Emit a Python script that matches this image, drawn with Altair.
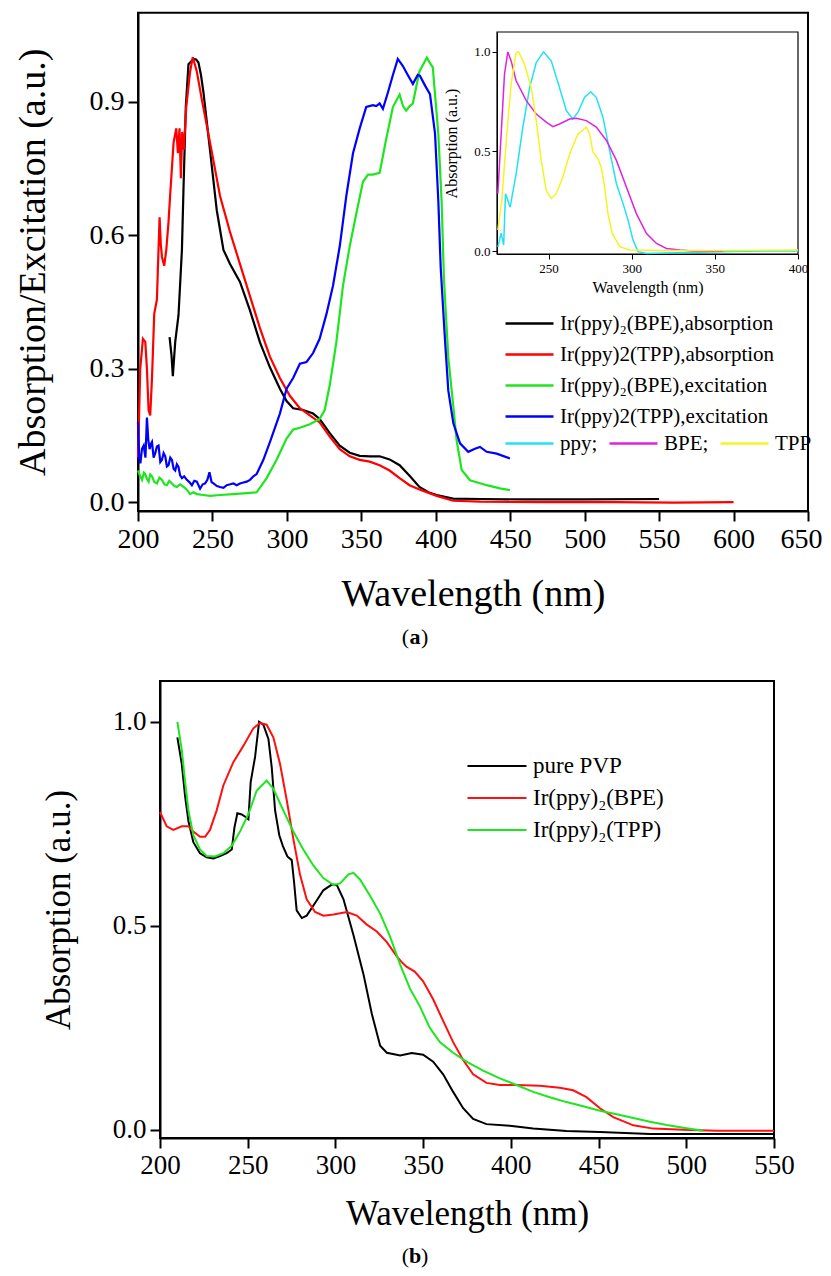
import altair as alt
import pandas as pd

FONT = "Liberation Serif"

# ---------------- Panel (a): main spectra (wavelength nm, normalised value) ----------------
A_BPE_ABS = [(221.2, 0.371), (222.5, 0.33), (223.4, 0.283), (225.0, 0.36), (227.2, 0.42), (229.5, 0.567),
             (230.6, 0.71), (232.1, 0.888), (233.9, 0.984), (235.5, 0.99), (237.3, 0.996), (239.0, 0.995),
             (240.6, 0.988), (242.3, 0.96), (244.0, 0.92), (248.4, 0.79), (252.9, 0.656), (257.4, 0.567),
             (261.8, 0.535), (268.5, 0.495), (275.2, 0.431), (281.9, 0.359), (288.6, 0.303), (295.3, 0.255),
             (299.8, 0.227), (304.2, 0.211), (310.9, 0.207), (317.6, 0.199), (322.0, 0.187), (328.8, 0.155),
             (335.5, 0.127), (342.2, 0.111), (348.9, 0.104), (355.6, 0.103), (362.3, 0.103), (369.0, 0.096),
             (375.7, 0.083), (382.4, 0.059), (389.0, 0.034), (395.0, 0.022), (400.6, 0.016), (411.6, 0.008),
             (430.0, 0.007), (460.0, 0.006), (500.0, 0.006), (550.0, 0.007)]

A_TPP_ABS = [(200.0, 0.10), (201.5, 0.3), (203.3, 0.367), (204.9, 0.36), (206.0, 0.3), (207.1, 0.207),
             (208.2, 0.195), (209.4, 0.279), (210.9, 0.423), (212.7, 0.455), (213.6, 0.55), (214.5, 0.64),
             (215.3, 0.58), (216.1, 0.551), (217.6, 0.531), (219.0, 0.567), (220.5, 0.63), (221.7, 0.696),
             (223.9, 0.808), (225.7, 0.84), (226.8, 0.784), (227.9, 0.84), (228.8, 0.728), (229.7, 0.832),
             (230.8, 0.792), (232.4, 0.888), (235.0, 0.968), (236.8, 1.0), (239.5, 0.968), (242.9, 0.904),
             (248.4, 0.808), (255.1, 0.688), (261.8, 0.607), (268.5, 0.535), (275.2, 0.463), (281.9, 0.391),
             (288.6, 0.327), (295.3, 0.279), (302.0, 0.239), (308.7, 0.211), (315.4, 0.195), (322.0, 0.179),
             (328.8, 0.147), (335.5, 0.119), (342.2, 0.103), (348.9, 0.095), (355.6, 0.091), (362.3, 0.083),
             (369.0, 0.071), (375.7, 0.054), (382.4, 0.038), (389.4, 0.028), (400.6, 0.014), (411.6, 0.003),
             (430.0, 0.001), (470.0, 0.0), (520.0, 0.0), (560.0, -0.001), (600.0, 0.0)]

A_BPE_EXC = [(200.0, 0.071), (201.5, 0.058), (202.7, 0.05), (204.0, 0.066), (204.9, 0.063), (206.0, 0.052),
             (207.1, 0.046), (208.2, 0.062), (209.4, 0.058), (211.0, 0.045), (212.7, 0.042), (214.4, 0.055),
             (216.1, 0.05), (217.8, 0.04), (219.4, 0.038), (221.0, 0.048), (222.8, 0.042), (224.5, 0.036),
             (226.1, 0.034), (228.3, 0.04), (230.6, 0.034), (232.8, 0.028), (235.0, 0.018), (237.2, 0.022),
             (239.5, 0.018), (244.0, 0.016), (248.4, 0.014), (255.1, 0.016), (264.1, 0.018), (273.0, 0.02),
             (279.7, 0.022), (286.4, 0.054), (293.1, 0.095), (299.8, 0.143), (304.2, 0.163), (308.7, 0.167),
             (315.4, 0.175), (322.0, 0.187), (325.4, 0.207), (328.8, 0.263), (333.2, 0.359), (337.7, 0.487),
             (342.2, 0.575), (346.6, 0.648), (351.1, 0.72), (354.5, 0.736), (357.8, 0.736), (362.3, 0.74),
             (366.7, 0.816), (371.2, 0.888), (375.7, 0.916), (378.0, 0.89), (380.1, 0.88), (382.5, 0.89),
             (384.6, 0.896), (389.0, 0.968), (391.6, 0.984), (394.0, 0.999), (395.5, 0.99), (398.0, 0.977),
             (401.7, 0.828), (403.9, 0.678), (405.5, 0.50), (408.4, 0.326), (411.8, 0.214), (414.0, 0.139),
             (417.4, 0.072), (423.0, 0.049), (434.2, 0.038), (443.1, 0.031), (449.8, 0.027)]

A_TPP_EXC = [(200.0, 0.18), (200.8, 0.1), (201.6, 0.087), (202.7, 0.12), (203.8, 0.127), (205.0, 0.1),
             (206.0, 0.19), (206.9, 0.14), (207.8, 0.119), (208.6, 0.13), (209.4, 0.135), (210.5, 0.1),
             (211.6, 0.11), (212.7, 0.125), (213.8, 0.127), (215.0, 0.09), (216.1, 0.095), (217.2, 0.11),
             (218.3, 0.103), (219.4, 0.08), (220.5, 0.083), (221.7, 0.1), (222.8, 0.095), (223.9, 0.075),
             (225.0, 0.071), (226.1, 0.085), (227.2, 0.079), (228.3, 0.06), (229.5, 0.054), (231.0, 0.058),
             (232.8, 0.05), (234.5, 0.045), (236.2, 0.038), (237.8, 0.048), (239.5, 0.046), (241.7, 0.03),
             (243.5, 0.04), (245.1, 0.042), (246.6, 0.05), (248.0, 0.067), (249.4, 0.045), (250.7, 0.042),
             (253.0, 0.036), (255.1, 0.034), (257.4, 0.032), (259.6, 0.038), (262.0, 0.04), (264.1, 0.042),
             (266.3, 0.038), (268.5, 0.042), (270.8, 0.044), (273.0, 0.046), (275.2, 0.05), (277.5, 0.058),
             (279.7, 0.063), (284.2, 0.095), (288.6, 0.135), (295.3, 0.199), (299.8, 0.255), (304.2, 0.279),
             (308.7, 0.311), (313.2, 0.315), (317.6, 0.335), (322.0, 0.367), (326.6, 0.423), (331.0, 0.487),
             (335.5, 0.575), (339.9, 0.688), (344.4, 0.784), (348.9, 0.84), (353.3, 0.888), (357.8, 0.892),
             (360.0, 0.89), (362.3, 0.896), (364.5, 0.884), (367.8, 0.92), (371.2, 0.96), (374.5, 0.996),
             (377.9, 0.98), (381.2, 0.96), (384.6, 0.94), (387.9, 0.96), (389.4, 0.958), (393.0, 0.935),
             (396.1, 0.917), (399.5, 0.828), (401.7, 0.678), (403.3, 0.528), (404.6, 0.453), (406.2, 0.364),
             (408.4, 0.251), (411.8, 0.177), (416.3, 0.132), (421.8, 0.113), (426.3, 0.12), (429.7, 0.124),
             (434.2, 0.113), (440.9, 0.109), (449.8, 0.098)]

A_NAMES = ["Ir(ppy)\u2082(BPE),absorption", "Ir(ppy)2(TPP),absorption",
           "Ir(ppy)\u2082(BPE),excitation", "Ir(ppy)2(TPP),excitation"]
A_COLORS = ["#000000", "#ff0000", "#1ee61e", "#0000ff"]

# ---------------- Panel (a) inset ----------------
IN_PPY = [(219.5, 0.02), (221.5, 0.09), (223.0, 0.03), (224.1, 0.288), (225.5, 0.255), (226.9, 0.22),
          (230.5, 0.388), (234.5, 0.62), (238.6, 0.82), (242.6, 0.947), (247.0, 1.0), (251.6, 0.955),
          (256.6, 0.82), (260.7, 0.705), (264.6, 0.663), (267.7, 0.697), (271.7, 0.772), (275.3, 0.80),
          (278.7, 0.772), (282.7, 0.672), (286.7, 0.505), (290.8, 0.338), (294.8, 0.238), (297.8, 0.155),
          (300.8, 0.055), (303.8, -0.003), (309.0, -0.012), (320.0, -0.01), (340.0, -0.006),
          (360.0, -0.003), (380.0, 0.0), (400.0, 0.0)]
IN_BPE = [(219.5, 0.288), (221.5, 0.588), (223.5, 0.888), (225.5, 1.0), (227.5, 0.955), (230.5, 0.855),
          (236.6, 0.755), (242.6, 0.688), (248.6, 0.647), (252.6, 0.625), (256.6, 0.638), (262.7, 0.663),
          (266.7, 0.667), (272.7, 0.655), (278.7, 0.622), (284.8, 0.555), (290.8, 0.455), (296.8, 0.322),
          (302.8, 0.188), (308.9, 0.088), (314.9, 0.038), (320.9, 0.013), (329.0, 0.005), (337.0, 0.0),
          (355.0, 0.0)]
IN_TPP = [(219.5, 0.105), (221.9, 0.255), (224.9, 0.588), (227.5, 0.838), (230.5, 0.997), (232.1, 1.0),
          (235.5, 0.938), (239.6, 0.82), (242.6, 0.655), (245.6, 0.455), (248.6, 0.305), (251.6, 0.263),
          (254.6, 0.288), (258.6, 0.372), (262.7, 0.488), (267.7, 0.588), (272.7, 0.622), (274.7, 0.588),
          (276.7, 0.497), (279.7, 0.463), (281.7, 0.421), (283.7, 0.322), (285.7, 0.188), (288.3, 0.088),
          (292.8, 0.022), (298.8, 0.005), (320.0, 0.002), (360.0, 0.003), (400.0, 0.005)]
IN_NAMES = ["ppy", "BPE", "TPP"]
IN_COLORS = ["#22e2f0", "#e022e0", "#f4f422"]

# ---------------- Panel (b) ----------------
B_PVP = [(209.9, 0.962), (212.4, 0.897), (214.3, 0.818), (216.2, 0.757), (219.0, 0.705), (222.8, 0.678),
         (226.6, 0.668), (230.4, 0.665), (234.2, 0.671), (238.0, 0.678), (240.9, 0.687), (242.4, 0.74),
         (244.1, 0.776), (246.6, 0.773), (249.0, 0.766), (250.4, 0.761), (251.7, 0.853), (254.2, 0.914),
         (256.5, 1.0), (258.9, 0.993), (261.8, 0.958), (263.7, 0.888), (265.6, 0.783), (268.0, 0.722),
         (270.0, 0.696), (272.6, 0.67), (275.1, 0.661), (276.4, 0.608), (277.9, 0.538), (280.8, 0.519),
         (283.6, 0.525), (288.4, 0.556), (293.1, 0.587), (297.9, 0.601), (300.8, 0.6), (304.6, 0.565),
         (310.3, 0.477), (316.0, 0.381), (320.7, 0.285), (325.5, 0.206), (329.3, 0.189), (336.9, 0.182),
         (343.5, 0.188), (350.0, 0.184), (355.7, 0.167), (361.4, 0.136), (367.1, 0.093), (372.8, 0.053),
         (378.5, 0.027), (386.1, 0.014), (399.4, 0.01), (412.7, 0.003), (431.7, -0.003), (450.8, -0.005),
         (479.3, -0.01), (550.0, -0.01)]
B_BPE = [(200.0, 0.779), (203.8, 0.744), (207.6, 0.735), (212.4, 0.744), (216.2, 0.744), (219.0, 0.731),
         (222.8, 0.718), (225.7, 0.718), (228.5, 0.735), (232.3, 0.783), (236.1, 0.844), (241.8, 0.901),
         (247.5, 0.941), (253.2, 0.984), (257.0, 0.997), (260.8, 0.993), (264.6, 0.962), (268.4, 0.897),
         (272.2, 0.809), (276.0, 0.713), (279.8, 0.626), (283.6, 0.565), (288.4, 0.534), (293.1, 0.525),
         (298.9, 0.528), (306.5, 0.534), (312.2, 0.525), (317.9, 0.503), (323.6, 0.486), (329.3, 0.46),
         (335.0, 0.425), (338.0, 0.41), (340.5, 0.4), (345.2, 0.388), (350.0, 0.364), (355.7, 0.32),
         (361.4, 0.267), (367.1, 0.215), (372.8, 0.171), (378.5, 0.136), (386.1, 0.115), (393.7, 0.11),
         (403.2, 0.11), (416.5, 0.108), (427.9, 0.103), (435.5, 0.097), (443.1, 0.08), (450.8, 0.053),
         (458.4, 0.031), (469.8, 0.011), (481.2, 0.003), (498.3, 0.0), (517.3, -0.002), (550.0, -0.002)]
B_TPP = [(209.9, 1.0), (212.4, 0.932), (214.3, 0.853), (216.2, 0.783), (219.0, 0.722), (222.8, 0.687),
         (226.6, 0.671), (231.4, 0.67), (236.1, 0.678), (240.9, 0.696), (245.6, 0.731), (250.4, 0.774),
         (255.1, 0.831), (260.8, 0.856), (264.6, 0.836), (270.3, 0.783), (276.0, 0.731), (281.7, 0.687),
         (287.4, 0.648), (293.1, 0.617), (298.9, 0.6), (302.7, 0.604), (307.4, 0.626), (310.3, 0.63),
         (314.1, 0.613), (319.8, 0.573), (325.5, 0.53), (331.2, 0.473), (336.9, 0.405), (342.5, 0.346),
         (348.2, 0.302), (353.8, 0.25), (359.5, 0.215), (367.1, 0.189), (374.7, 0.167), (384.2, 0.145),
         (393.7, 0.126), (403.2, 0.11), (412.7, 0.093), (422.2, 0.08), (431.7, 0.068), (441.2, 0.058),
         (450.8, 0.047), (460.3, 0.038), (469.8, 0.029), (479.3, 0.02), (488.8, 0.012), (498.3, 0.005),
         (509.7, -0.002)]
B_NAMES = ["pure PVP", "Ir(ppy)\u2082(BPE)", "Ir(ppy)\u2082(TPP)"]
B_COLORS = ["#000000", "#ff1010", "#1ee61e"]

A_XTICKS = [200, 250, 300, 350, 400, 450, 500, 550, 600, 650]
A_YTICKS = [0.0, 0.3, 0.6, 0.9]
IN_XTICKS = [250, 300, 350, 400]
IN_YTICKS = [0.0, 0.5, 1.0]
B_XTICKS = [200, 250, 300, 350, 400, 450, 500, 550]
B_YTICKS = [0.0, 0.5, 1.0]

# ---------------- layout (view pixels) ----------------
W, H = 815, 1260


def long_df(names, series):
    rows = []
    for name, pts in zip(names, series):
        for w, v in pts:
            rows.append({"series": name, "wl": w, "val": v})
    return pd.DataFrame(rows)


def axis(orient, offset, values, title, lfs, tfs, tpad, tick=10, lpad=4, width=2, fmt=None,
         last_shift=None):
    kw = dict(orient=orient, offset=offset, values=values, title=title,
              labelFont=FONT, labelFontSize=lfs, labelColor="black",
              titleFont=FONT, titleFontSize=tfs, titleFontWeight="normal", titleColor="black",
              titlePadding=tpad, domainColor="black", tickColor="black", domainWidth=width,
              tickWidth=width, tickSize=tick, labelPadding=lpad, grid=False,
              labelFlush=False, labelOverlap=False)
    if fmt:
        kw["format"] = fmt
    if last_shift is not None:
        kw["labelOffset"] = {"condition": {"test": f"datum.value == {values[-1]}", "value": last_shift},
                             "value": 0}
    return alt.Axis(**kw)


def panel(df, names, colors, xdom, xrng, ydom, yrng, xax, yax, legend, sw, fw):
    xs = alt.Scale(domain=xdom, range=xrng, nice=False, zero=False)
    ys = alt.Scale(domain=ydom, range=yrng, nice=False, zero=False)
    fdf = pd.DataFrame({"x0": [xdom[0]], "x1": [xdom[1]], "y0": [ydom[0]], "y1": [ydom[1]]})
    frame = alt.Chart(fdf).mark_rect(fillOpacity=0, stroke="black", strokeWidth=fw).encode(
        x=alt.X("x0:Q", scale=xs, axis=xax, title=xax.title), x2="x1",
        y=alt.Y("y0:Q", scale=ys, axis=yax, title=yax.title), y2="y1")
    lines = alt.Chart(df).mark_line(strokeWidth=sw).encode(
        x=alt.X("wl:Q", scale=xs, axis=xax, title=xax.title),
        y=alt.Y("val:Q", scale=ys, axis=yax, title=yax.title),
        color=alt.Color("series:N", scale=alt.Scale(domain=names, range=colors), legend=legend),
    )
    return alt.layer(frame, lines)


# Panel (a)
a_x0, a_x1, a_yb, a_yt = 130, 800, 503, 4.7
panel_a = panel(
    long_df(A_NAMES, [A_BPE_ABS, A_TPP_ABS, A_BPE_EXC, A_TPP_EXC]), A_NAMES, A_COLORS,
    [200, 650], [a_x0, a_x1], [-0.02, 1.1], [a_yb, a_yt],
    axis("bottom", a_yb - H, A_XTICKS, "Wavelength (nm)", 28, 38, 22, last_shift=-7),
    axis("left", -a_x0, A_YTICKS, "Absorption/Excitation (a.u.)", 28, 38, 37, fmt=".1f"),
    alt.Legend(orient="none", legendX=508, legendY=302, title=None, symbolType="M-2,0H2",
               symbolSize=576, symbolStrokeWidth=2.5, labelFont=FONT, labelFontSize=21,
               labelColor="black", labelOffset=17, rowPadding=7, padding=0, labelLimit=400,
               direction="vertical"),
    2.2, 2)

# Inset
i_x0, i_x1, i_yb, i_yt = 489, 790, 246, 24
panel_in = panel(
    long_df(IN_NAMES, [IN_PPY, IN_BPE, IN_TPP]), IN_NAMES, IN_COLORS,
    [219, 400], [i_x0, i_x1], [-0.015, 1.1], [i_yb, i_yt],
    axis("bottom", i_yb - H, IN_XTICKS, "Wavelength (nm)", 13, 16, 4, tick=5, lpad=3, width=1),
    axis("left", -i_x0, IN_YTICKS, "Absorption (a.u.)", 13, 16, 14, tick=5, lpad=2, width=1, fmt=".1f"),
    alt.Legend(orient="none", legendX=508, legendY=422, title=None, symbolType="M-2,0H2",
               symbolSize=576, symbolStrokeWidth=2.5, labelFont=FONT, labelFontSize=21,
               labelColor="black", labelOffset=17, columnPadding=6, padding=0,
               direction="horizontal", gridAlign="none",
               labelExpr="datum.label == 'TPP' ? datum.label : datum.label + ';'"),
    1.5, 1.2)

# Panel (b)
b_x0, b_x1, b_yb, b_yt = 152, 766, 1130, 673
panel_b = panel(
    long_df(B_NAMES, [B_PVP, B_BPE, B_TPP]), B_NAMES, B_COLORS,
    [200, 550], [b_x0, b_x1], [-0.02, 1.1], [b_yb, b_yt],
    axis("bottom", b_yb - H, B_XTICKS, "Wavelength (nm)", 27, 35, 18),
    axis("left", -b_x0, B_YTICKS, "Absorption (a.u.)", 27, 35, 36, fmt=".1f"),
    alt.Legend(orient="none", legendX=473, legendY=742, title=None, symbolType="M-2,0H2",
               symbolSize=870, symbolStrokeWidth=2.2, labelFont=FONT, labelFontSize=23,
               labelColor="black", labelOffset=20, rowPadding=4, padding=0, labelLimit=400,
               direction="vertical"),
    2, 2)


def caption(letter, y):
    parts = []
    for t, dx, al, wt in [("(", -6, "right", "normal"), (letter, 0, "center", "bold"),
                          (")", 6, "left", "normal")]:
        parts.append(alt.Chart(pd.DataFrame({"t": [t]})).mark_text(
            font=FONT, fontSize=22, fontWeight=wt, align=al, baseline="middle", color="black"
        ).encode(x=alt.value(407 + dx), y=alt.value(y), text="t:N"))
    return parts


chart = alt.layer(
    panel_a, panel_in, panel_b, *caption("a", 629), *caption("b", 1248)
).resolve_scale(
    x="independent", y="independent", color="independent"
).properties(
    width=W, height=H, padding=0, autosize=alt.AutoSizeParams(type="none")
).configure_view(stroke="transparent")

chart.save("out.html", embed_options={"renderer": "svg", "actions": False})
